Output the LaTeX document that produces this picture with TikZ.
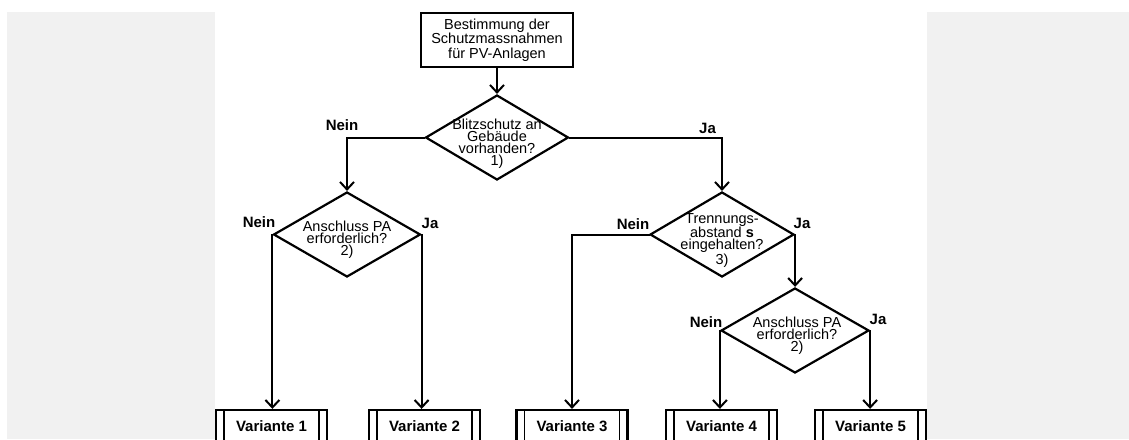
\documentclass[tikz,border=0pt]{standalone}
\usepackage{fontspec}
\setmainfont{Liberation Sans}
\usetikzlibrary{arrows.meta,shapes.geometric}
\definecolor{bggray}{RGB}{241,241,241}
\tikzset{
  conn/.style={line width=2pt, line cap=rect},
  arr/.style={conn, -{Straight Barb[length=7.5pt,width=14pt,line width=2pt]}},
  startbox/.style={draw, line width=2.2pt, minimum width=152pt, minimum height=54pt,
    inner sep=0pt, align=center, font=\fontsize{14.5}{14.5}\selectfont},
  decision/.style={draw, diamond, line width=2.2pt, inner sep=0pt,
    minimum width=#1, minimum height=85pt},
  dtext/.style={align=center, font=\fontsize{14.5}{12}\selectfont, inner sep=0pt},
  answer/.style={font=\fontsize{15}{15}\bfseries\selectfont, inner sep=0pt},
  variant/.style={draw, line width=2.2pt, minimum width=111pt, minimum height=32pt,
    inner sep=0pt, font=\fontsize{15}{15}\bfseries\selectfont,
    path picture={
      \draw[line width=1.8pt] ([xshift=8pt]path picture bounding box.north west) -- ([xshift=8pt]path picture bounding box.south west);
      \draw[line width=1.8pt] ([xshift=-8pt]path picture bounding box.north east) -- ([xshift=-8pt]path picture bounding box.south east);
    }},
}
\begin{document}
\begin{tikzpicture}[x=1pt,y=-1pt]
\useasboundingbox (0,0) rectangle (1129,439);
\clip (0,0) rectangle (1129,439);
\fill[white] (0,0) rectangle (1129,439);
\fill[bggray] (7,12) rectangle (1129,439);
\fill[white] (215,0) rectangle (927,439);

\node[startbox] (start) at (497,40) {Bestimmung der\\Schutzmassnahmen\\für PV-Anlagen};

\node[decision=143pt] (d1) at (497,137.5) {};
\node[dtext] (t1) at (497,144) {Blitzschutz an\\Gebäude\\vorhanden?\\1)};

\node[decision=147pt] (d2) at (347,234.5) {};
\node[dtext] (t2) at (347,240) {Anschluss PA\\erforderlich?\\2)};

\node[decision=144pt] (d3) at (722,234.5) {};
\node[dtext] (t3) at (722,240.5) {Trennungs-\\abstand \textbf{s}\\eingehalten?\\3)};

\node[decision=148pt] (d4) at (795,330.5) {};
\node[dtext] (t4) at (797,335.5) {Anschluss PA\\erforderlich?\\2)};

\node[variant] (v1) at (271.5,426) {Variante 1};
\node[variant] (v2) at (424.5,426) {Variante 2};
\node[variant] (v3) at (572,426) {Variante 3};
\node[variant] (v4) at (721.5,426) {Variante 4};
\node[variant] (v5) at (870.5,426) {Variante 5};

\draw[arr] (start.south) -- (d1.north);
\draw[arr] (d1.west) -| (d2.north);
\draw[arr] (d1.east) -| (d3.north);
\draw[arr] (d2.west) -- (d2.west |- v1.north);
\draw[arr] (d2.east) -- (d2.east |- v2.north);
\coordinate (c3) at (v3.north |- d3.west);
\draw[arr] (d3.west) -- (c3) -- (v3.north);
\draw[arr] (d3.east) -- (d3.east |- d4.north);
\draw[arr] (d4.west) -- (d4.west |- v4.north);
\draw[arr] (d4.east) -- (d4.east |- v5.north);

\node[answer] (n1) at (342,125) {Nein};
\node[answer] (j1) at (707.5,128) {Ja};
\node[answer] (n2) at (259,222) {Nein};
\node[answer] (j2) at (430,223) {Ja};
\node[answer] (n3) at (633,224) {Nein};
\node[answer] (j3) at (802,223) {Ja};
\node[answer] (n4) at (706,322) {Nein};
\node[answer] (j4) at (878,319) {Ja};
\end{tikzpicture}
\end{document}
